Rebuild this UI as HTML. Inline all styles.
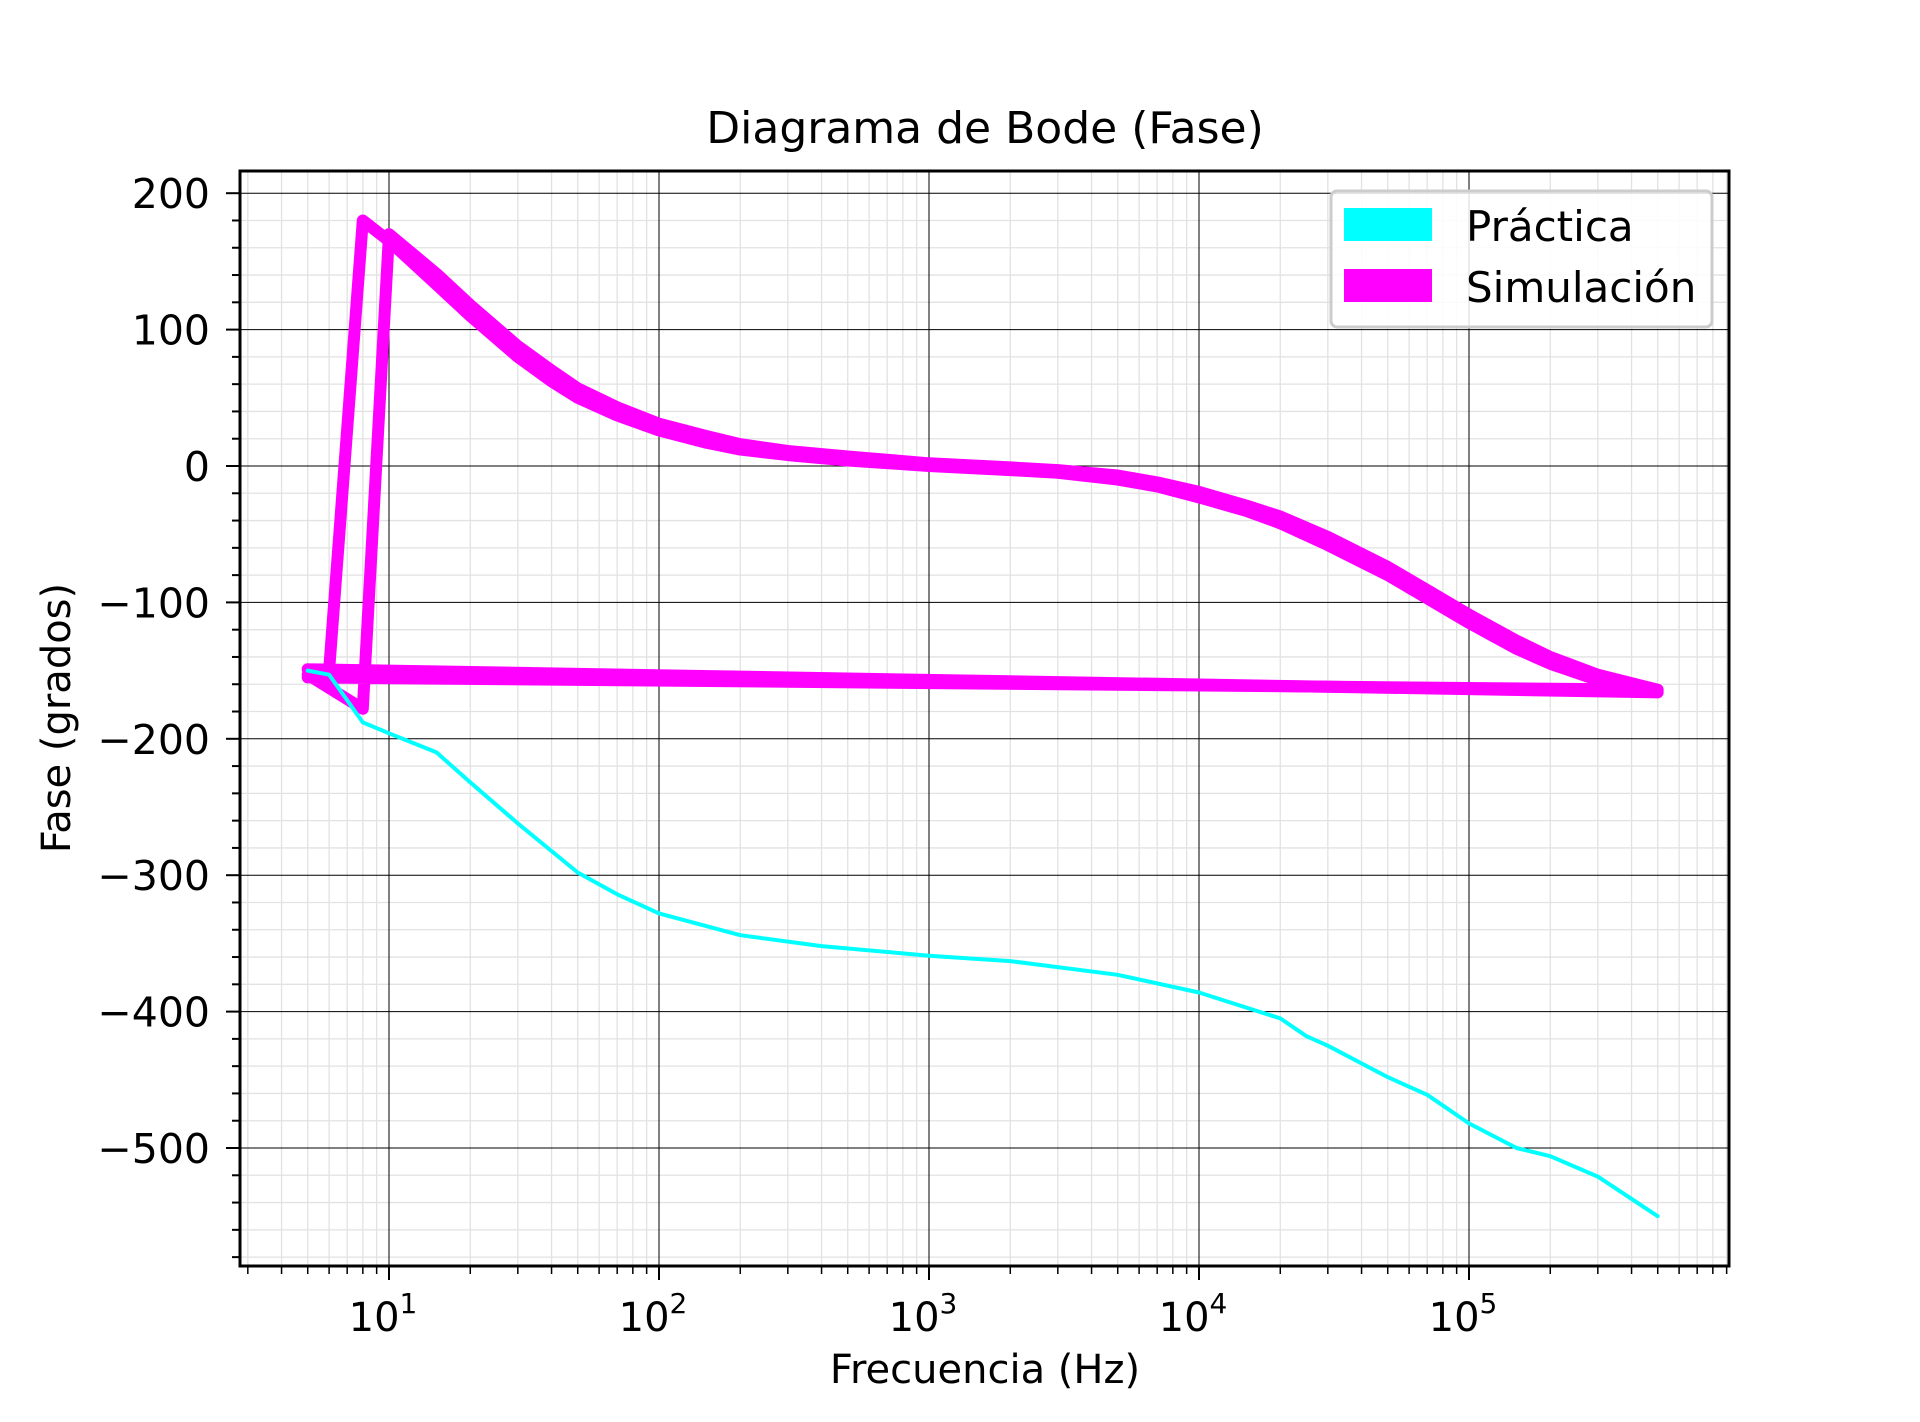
<!DOCTYPE html>
<html><head><meta charset="utf-8"><style>
html,body{margin:0;padding:0;background:#fff;}
svg{display:block;font-family:"DejaVu Sans","Liberation Sans",sans-serif;}
</style></head><body>
<svg id="chart" width="1920" height="1422" viewBox="0 0 1920 1422" xmlns="http://www.w3.org/2000/svg">
<rect width="1920" height="1422" fill="#fff"/>
<text x="985" y="143" font-size="44" text-anchor="middle">Diagrama de Bode (Fase)</text>
<g id="grid"></g>
<g id="series"></g>
<g id="axes"></g>
<text x="985" y="1383" font-size="40" text-anchor="middle">Frecuencia (Hz)</text>
<text transform="translate(70,718) rotate(-90)" font-size="40" text-anchor="middle">Fase (grados)</text>
<g>
<rect x="1331" y="191" width="381" height="136" rx="6" fill="#fff" fill-opacity="0.85" stroke="#ccc" stroke-width="3"/>
<rect x="1344" y="208" width="88" height="33" fill="#00ffff"/>
<text x="1466" y="241" font-size="42">Práctica</text>
<rect x="1344" y="269" width="88" height="33" fill="#ff00ff"/>
<text x="1466" y="302" font-size="42">Simulación</text>
</g>
</svg>
<script>
const practicaFreq = [5,6,8,10,15,20,30,50,70,100,200,400,1000,2000,5000,10000,20000,25000,30000,50000,70000,100000,150000,200000,300000,500000];
const practicaPhase = [-150,-153,-188,-196,-210,-232,-262,-298,-314,-328,-344,-352,-359,-363,-373,-386,-405,-418,-425,-448,-461,-482,-500,-506,-521,-550];
const simAFreq = [5,6,8,10,15,20,30,40,50,70,100,150,200,300,500,1000,2000,3000,5000,7000,10000,15000,20000,30000,50000,70000,100000,150000,200000,300000,500000,5];
const simAPhase = [-149,-150,180,165,133,110,80,62,50,37,26,17,12,8,4,0,-3,-5,-10,-15,-23,-33,-42,-58,-80,-97,-115,-134,-145,-157,-166,-149];
const simBFreq = [5,8,10,15,20,30,40,50,70,100,150,200,300,500,1000,2000,3000,5000,7000,10000,15000,20000,30000,50000,70000,100000,150000,200000,300000,500000,5];
const simBPhase = [-153,-178,170,141,118,88,70,57,43,31,22,16,11,7,2,-1,-3,-7,-12,-19,-29,-37,-52,-74,-91,-109,-128,-140,-153,-164,-155];
const yTicks = [200,100,0,-100,-200,-300,-400,-500];
const xDecades = [1,2,3,4,5];

const L=240,R=1729,T=171,B=1266;
const X=f=>389+(Math.log10(f)-1)*270;
const Y=v=>466-v*1.364;
const NS="http://www.w3.org/2000/svg";
function mk(tag,attrs,parent){const e=document.createElementNS(NS,tag);for(const k in attrs)e.setAttribute(k,attrs[k]);parent.appendChild(e);return e;}
const grid=document.getElementById('grid'),axes=document.getElementById('axes'),series=document.getElementById('series');

for(let d=0;d<=5;d++){for(let m=1;m<=9;m++){const f=m*Math.pow(10,d);const x=X(f);if(x<L||x>R)continue;
 if(m===1&&d>=1)continue;
 const g=mk('line',{x1:x,x2:x,y1:T,y2:B,stroke:'#e2e2e2','stroke-width':1.3},grid);
 
 
 mk('line',{x1:x,x2:x,y1:B,y2:B+8,stroke:'#000','stroke-width':1.5},axes);}}
for(let v=-580;v<=220;v+=20){const y=Y(v);if(y<T||y>B)continue;if(v%100===0)continue;
 const g=mk('line',{x1:L,x2:R,y1:y,y2:y,stroke:'#e2e2e2','stroke-width':1.3},grid);
 
 
 mk('line',{x1:L-8,x2:L,y1:y,y2:y,stroke:'#000','stroke-width':2},axes);}
xDecades.forEach(d=>{const x=X(Math.pow(10,d));
 mk('line',{x1:x,x2:x,y1:T,y2:B,stroke:'#000','stroke-width':1},grid);
 mk('line',{x1:x,x2:x,y1:B,y2:B+14,stroke:'#000','stroke-width':2},axes);
 const t=mk('text',{x:x-6,y:B+65,'font-size':40,'text-anchor':'middle'},axes);
 
 
 t.textContent='10';
 const s=mk('tspan',{dy:-18,'font-size':28},t);s.textContent=String(d);});
yTicks.forEach(v=>{const y=Y(v);
 mk('line',{x1:L,x2:R,y1:y,y2:y,stroke:'#000','stroke-width':1},grid);
 mk('line',{x1:L-14,x2:L,y1:y,y2:y,stroke:'#000','stroke-width':2},axes);
 const t=mk('text',{x:L-30,y:y+15,'font-size':41,'text-anchor':'end'},axes);
 
 
 t.textContent=v<0?'\u2212'+Math.abs(v):String(v);});
const frame=mk('rect',{x:L,y:T,width:R-L,height:B-T,fill:'none',stroke:'#000','stroke-width':3},axes);



function poly(fs,vs,color,w,name){const p=fs.map((f,i)=>X(f).toFixed(1)+','+Y(vs[i]).toFixed(1)).join(' ');
 const e=mk('polyline',{points:p,fill:'none',stroke:color,'stroke-width':w,'stroke-linejoin':'round','stroke-linecap':'round'},series);
 
 }
poly(simAFreq,simAPhase,'#ff00ff',12,'simulacion-line-a');
poly(simBFreq,simBPhase,'#ff00ff',12,'simulacion-line-b');
poly(practicaFreq,practicaPhase,'#00ffff',4,'practica-line');
</script>
</body></html>
